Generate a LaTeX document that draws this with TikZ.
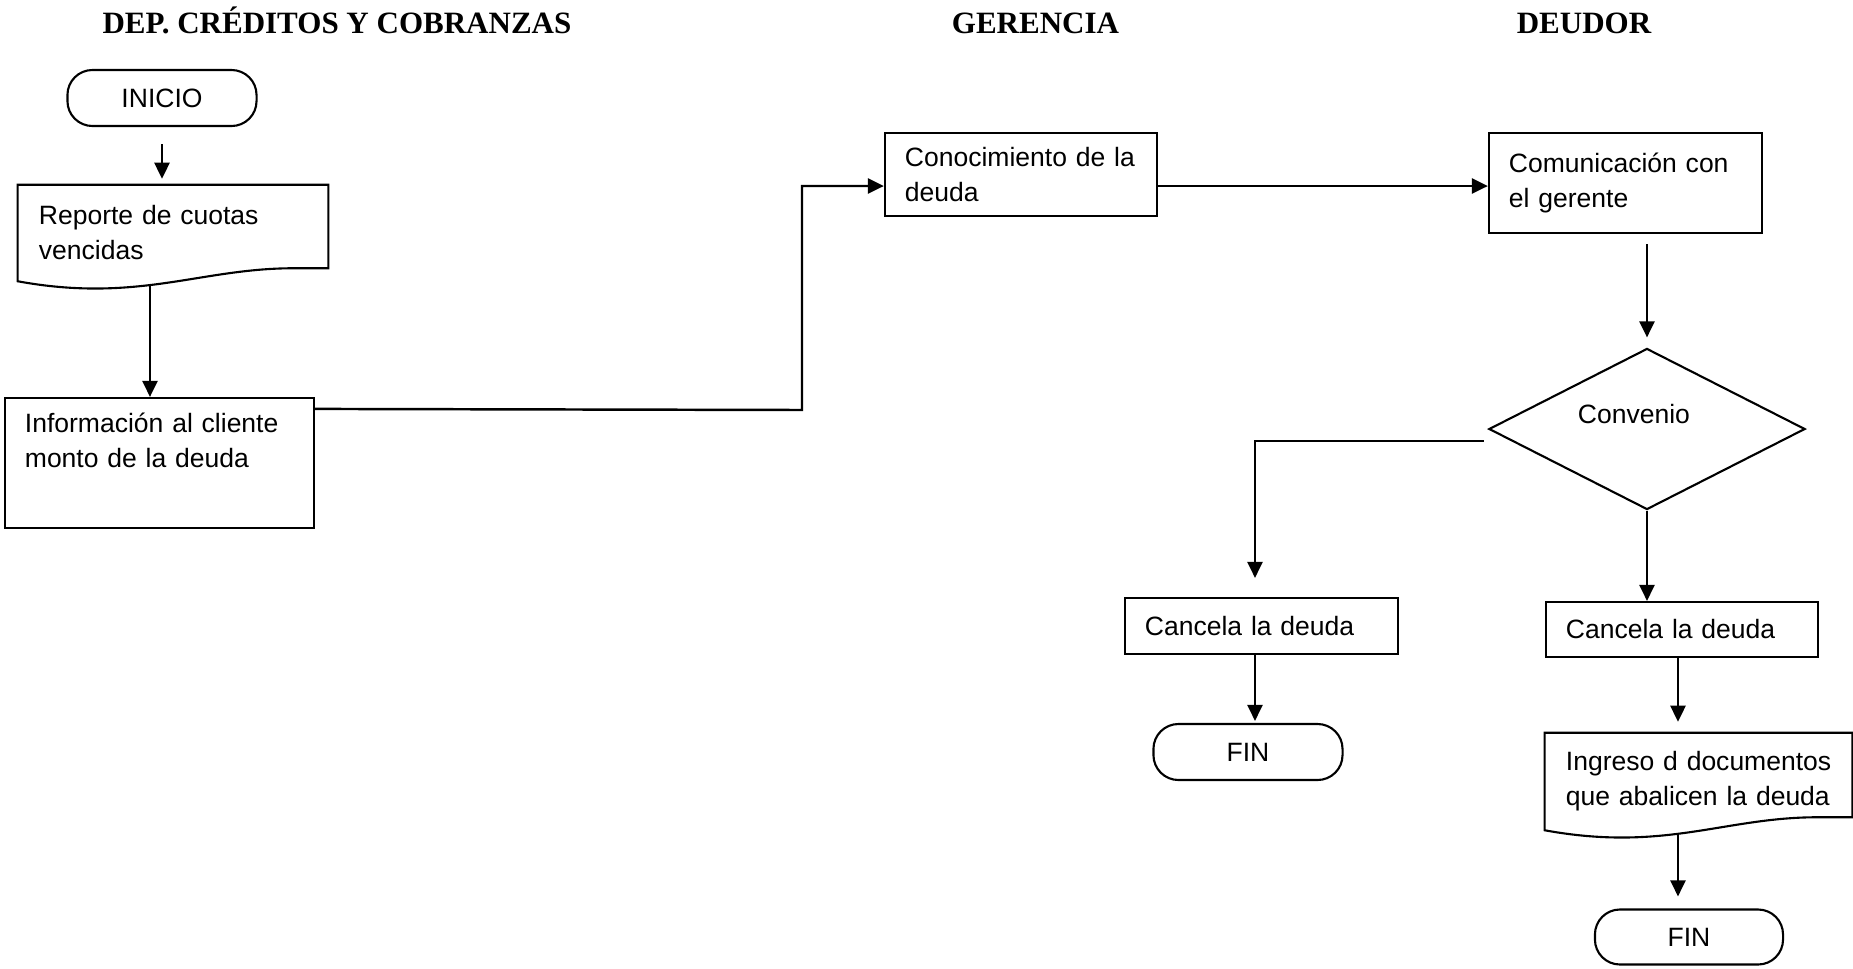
\documentclass[tikz,border=0pt]{standalone}
\usepackage{fontspec}
\setmainfont{Liberation Sans}
\newfontfamily\titulofont{Liberation Serif}
\usetikzlibrary{shapes.geometric,arrows.meta}

% borde de documento con la base ondulada
\newcommand{\docborde}[1]{%
    \draw[line width=0.6pt] (#1.south west) -- (#1.north west) -- (#1.north east)
        -- ([yshift=0.13cm]#1.south east) -- ++(-35,0)
        .. controls +(-93,0) and +(120,22) .. (#1.south west) -- cycle;
}

\begin{document}
\begin{tikzpicture}[x=0.01cm, y=-0.01cm, line width=0.7pt, >={Triangle[length=0.16cm,width=0.15cm]}]
        \useasboundingbox (0,0) rectangle (1853,969);
        \tikzstyle{every node}=[font=\fontsize{7.54pt}{9.96pt}\selectfont]
        \tikzstyle{caja}=[draw, rectangle, line width=0.6pt, align=left, inner xsep=0.2cm, inner ysep=0pt]
        \tikzstyle{doc}=[rectangle, align=left, inner xsep=0.2cm, inner ysep=0pt]
        \tikzstyle{terminal}=[draw, rectangle, rounded corners=0.25cm, line width=0.6pt, minimum width=1.89cm, minimum height=0.56cm]
        \tikzstyle{decision}=[draw, diamond, line width=0.6pt, inner sep=0pt, minimum width=3.16cm, minimum height=1.61cm]

        \foreach \n/\x/\t in {1/337/{DEP. CRÉDITOS Y COBRANZAS}, 2/1035.5/GERENCIA, 3/1584/DEUDOR} {
            \node[anchor=base, font=\titulofont\bfseries\fontsize{8.82pt}{10pt}\selectfont] (tit\n) at (\x,33) {\t};
        }

        % departamento
        \node[terminal] (inicio) at (162,98) {INICIO};
        \node[doc, text width=2.68cm, minimum height=0.94cm] (reporte) at (173,233) {Reporte de cuotas\\vencidas};
        \docborde{reporte}
        \node[caja, text width=2.69cm, minimum height=1.30cm] (info) at (159.5,463) {Información al cliente\\monto de la deuda\\\strut};

        % gerencia
        \node[caja, text width=2.32cm, minimum height=0.83cm] (conoc) at (1021,174.5) {Conocimiento de la\\deuda};

        % deudor
        \node[caja, text width=2.33cm, minimum height=1.00cm] (comun) at (1625.5,183) {Comunicación con\\el gerente};
        \node[decision, label={[xshift=-0.13cm, yshift=0.15cm]center:Convenio}] (conv) at (1647,429) {};
        \node[caja, text width=2.33cm, minimum height=0.56cm] (cancela1) at (1261.5,626) {Cancela la deuda};
        \node[terminal] (fin1) at (1248,752) {FIN};
        \node[caja, text width=2.32cm, minimum height=0.55cm] (cancela2) at (1682,629.5) {Cancela la deuda};
        \node[doc, text width=2.65cm, minimum height=0.95cm] (ingreso) at (1698.5,781.5) {\mbox{Ingreso d documentos}\\\mbox{que abalicen la deuda}};
        \docborde{ingreso}
        \node[terminal, minimum width=1.88cm, minimum height=0.55cm] (fin2) at (1689,937) {FIN};

        \coordinate (quiebre) at (802,410);
        \draw[->] ([yshift=-0.17cm]inicio.south) -- ([yshift=0.06cm]inicio.south |- reporte.north);
        \draw[->] ([xshift=-0.23cm,yshift=-0.04cm]reporte.south) -- ([xshift=-0.23cm]reporte.south |- info.north);
        \draw[->] ([yshift=-0.12cm]info.north east) -- (quiebre) |- ([yshift=-0.115cm]conoc.west);
        \draw[->] ([yshift=-0.115cm]conoc.east) -- ([yshift=-0.115cm]conoc.east -| comun.west);
        \draw[->] ([yshift=-0.1cm]comun.south -| conv.north) -- ([yshift=0.1cm]conv.north);
        \draw[->] ([xshift=-0.04cm,yshift=-0.12cm]conv.west) -| ([xshift=-0.065cm,yshift=0.19cm]cancela1.north);
        \draw[->] (conv.south) -- (conv.south |- cancela2.north);
        \draw[->] ([xshift=-0.065cm]cancela1.south) -- ([xshift=-0.065cm,yshift=0.02cm]cancela1.south |- fin1.north);
        \draw[->] ([xshift=-0.04cm]cancela2.south) -- ([xshift=-0.04cm,yshift=0.11cm]cancela2.south |- ingreso.north);
        \draw[->] ([xshift=-0.205cm,yshift=-0.05cm]ingreso.south) -- ([xshift=-0.205cm,yshift=0.12cm]ingreso.south |- fin2.north);
\end{tikzpicture}
\end{document}
